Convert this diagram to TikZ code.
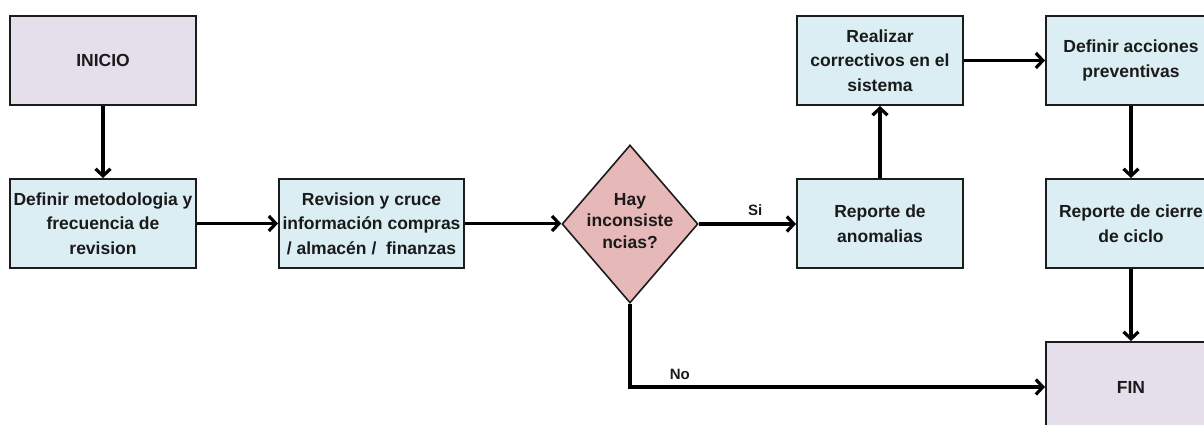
\documentclass[tikz,border=0pt]{standalone}
\usepackage{fontspec}
\setmainfont{Liberation Sans}
\usetikzlibrary{shapes.geometric,arrows.meta}
\definecolor{lav}{HTML}{E5DFEC}
\definecolor{pale}{HTML}{DBEEF3}
\definecolor{rose}{HTML}{E6B9B8}
\definecolor{edge}{HTML}{1C1C1C}
\definecolor{ink}{HTML}{1A1A1A}
\begin{document}
\begin{tikzpicture}[x=1pt,y=-1pt,
  txt/.style={font=\fontsize{17.5}{24.5}\selectfont\bfseries, text=ink, align=center},
  box/.style={txt, draw=edge, line width=2pt, minimum width=186pt,
    minimum height=89pt, inner sep=0pt},
  startbox/.style={box, fill=lav},
  stepbox/.style={box, fill=pale},
  narrow/.style={minimum width=170pt},
  decision/.style={diamond, draw=edge, fill=rose, line width=1.6pt,
    minimum width=136pt, minimum height=158pt, inner sep=0pt},
  arr/.style={line width=3.2pt, draw=black,
    -{Straight Barb[length=7pt,width=15pt]}},
  tag/.style={font=\fontsize{15}{17}\selectfont\bfseries, text=ink}
]
\useasboundingbox (0,0) rectangle (1204,425);
\clip (0,0) rectangle (1204,425);

% start and first steps
\node[startbox] (ini) at (103,60.5) {INICIO};
\node[stepbox] (metod) at (103,223.5) {Definir metodologia y\\frecuencia de\\revision};
\node[stepbox, minimum width=185pt] (rev) at (371.5,223.5)
  {Revision y cruce\\información compras\\/ almacén / \ finanzas};

% decision
\node[decision] (dec) at (630,224) {};
\node[txt, inner sep=0pt] (dectext) at (630,221) {Hay\\[-3pt]inconsiste\\[-3pt]ncias?};

% corrective branch
\node[stepbox, minimum width=166pt] (anom) at (880,223.5) {Reporte de\\anomalias};
\node[stepbox, minimum width=166pt] (corr) at (880,60.5) {Realizar\\correctivos en el\\sistema};

% right column
\node[stepbox, narrow] (prev) at (1131,60.5) {Definir acciones\\preventivas};
\node[stepbox, narrow] (cierre) at (1131,223.5) {Reporte de cierre\\de ciclo};
\node[startbox, narrow, minimum height=90pt] (fin) at (1131,387) {FIN};

% connectors
\draw[arr] (ini.south) -- (metod.north);
\draw[arr] (metod.east) -- (rev.west);
\draw[arr] (rev.east) -- (rev.east -| dec.west);
\draw[arr] (dec.east) -- node[tag, above=3pt, pos=0.58] (si) {Si} (dec.east -| anom.west);
\draw[arr] (anom.north) -- (corr.south);
\draw[arr] (corr.east) -- (prev.west);
\draw[arr] (prev.south) -- (cierre.north);
\draw[arr] (cierre.south) -- (fin.north);
\draw[arr] (dec.south) |- node[tag, above=2pt, pos=0.56] (no) {No} (fin.west);
\end{tikzpicture}
\end{document}
